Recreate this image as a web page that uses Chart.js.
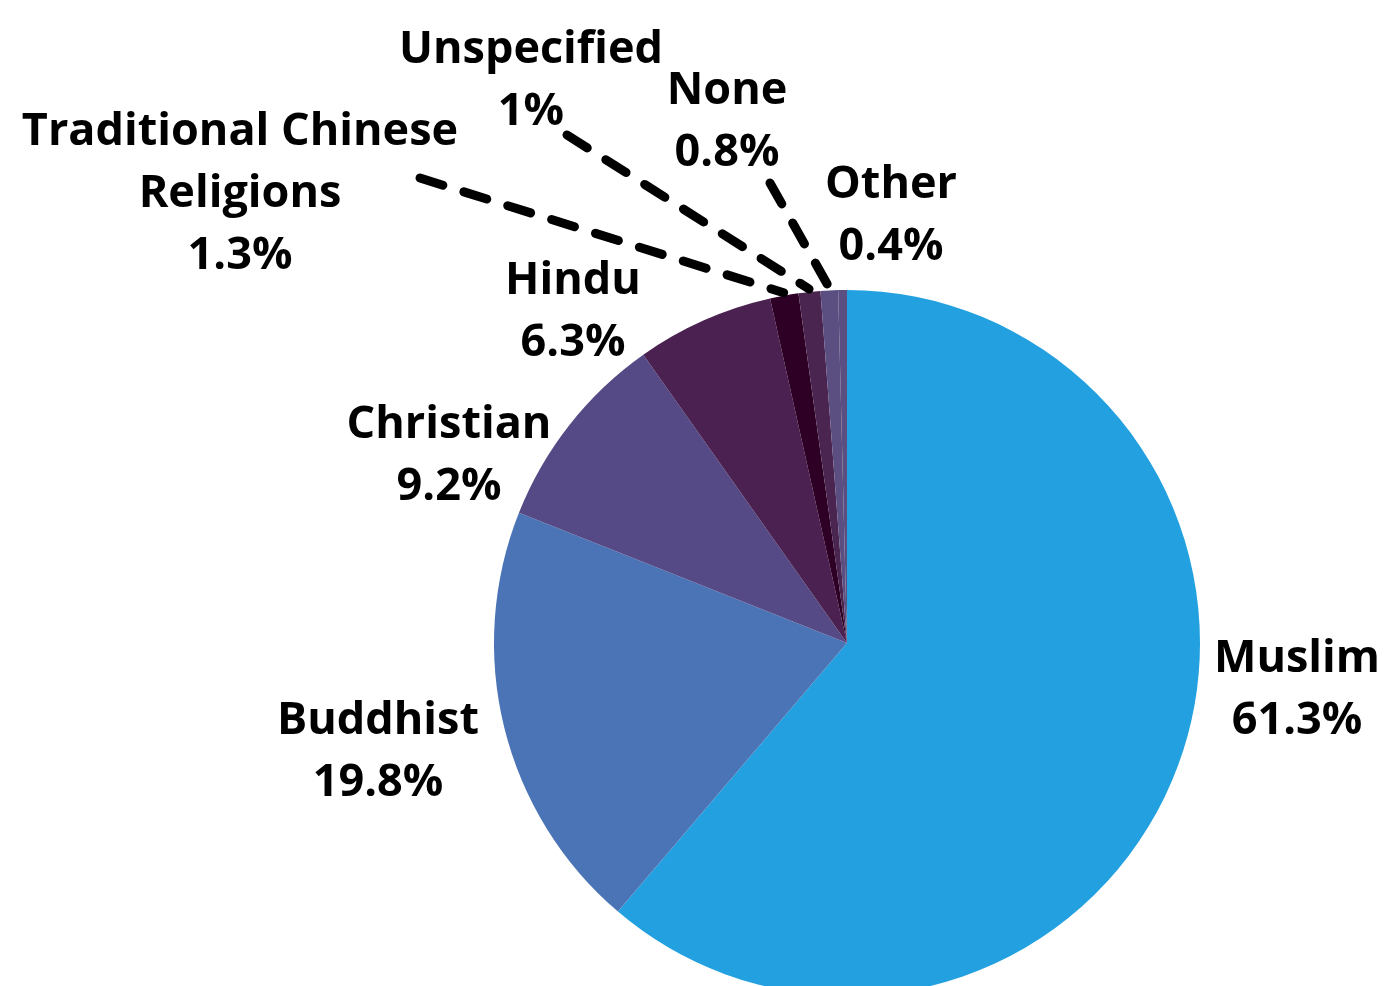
<!DOCTYPE html>
<html lang="en">
<head>
  <meta charset="UTF-8">
  <title>Religions</title>
  <script src="https://cdn.jsdelivr.net/npm/chart.js"></script>
  <style>
    html, body { margin: 0; padding: 0; background: #fff; overflow: hidden; }
    .chart-box { width: 1390px; height: 1000px; }
  </style>
</head>
<body>
  <div class="chart-box"><canvas id="pieChart"></canvas></div>
  <script>
    const religions = ['Muslim', 'Buddhist', 'Christian', 'Hindu', 'Traditional Chinese Religions', 'Unspecified', 'None', 'Other'];
    const shares = [61.3, 19.8, 9.2, 6.3, 1.3, 1, 0.8, 0.4];
    const shareLabels = ['61.3%', '19.8%', '9.2%', '6.3%', '1.3%', '1%', '0.8%', '0.4%'];
    const sliceColors = ['#22a0df', '#4a74b6', '#554a85', '#4a2150', '#2e0026', '#4a2550', '#5b4f81', '#5b4f81'];

    // where each label block sits (center x, first baseline y) and text lines
    const labelLines = [
      ['Muslim'], ['Buddhist'], ['Christian'], ['Hindu'],
      ['Traditional Chinese', 'Religions'], ['Unspecified'], ['None'], ['Other']
    ];
    const labelAt = [
      [1297, 672], [378, 734], [449, 438], [573, 294],
      [240, 145], [531, 63], [727, 104], [891, 198]
    ];
    // dashed leader lines start here and run to the slice edge
    const leaderFrom = { 4: [420, 178], 5: [567, 135], 6: [770, 183] };

    const labelPlugin = {
      id: 'sliceLabels',
      afterDatasetsDraw(chart) {
        const ctx = chart.ctx;
        const arcs = chart.getDatasetMeta(0).data;
        ctx.save();
        ctx.strokeStyle = '#000';
        ctx.lineWidth = 9;
        ctx.lineCap = 'round';
        ctx.setLineDash([24, 22]);
        for (const k in leaderFrom) {
          const a = arcs[k];
          const p = a.getProps(['x', 'y', 'startAngle', 'endAngle', 'outerRadius'], true);
          const mid = (p.startAngle + p.endAngle) / 2;
          const ex = p.x + Math.cos(mid) * (p.outerRadius + 3);
          const ey = p.y + Math.sin(mid) * (p.outerRadius + 3);
          ctx.beginPath();
          ctx.moveTo(leaderFrom[k][0], leaderFrom[k][1]);
          ctx.lineTo(ex, ey);
          ctx.stroke();
        }
        ctx.setLineDash([]);
        ctx.fillStyle = '#000';
        ctx.font = 'bold 45px "Open Sans"';
        ctx.textAlign = 'center';
        ctx.textBaseline = 'alphabetic';
        religions.forEach((r, i) => {
          const lines = [...labelLines[i], shareLabels[i]];
          lines.forEach((t, j) => {
            ctx.fillText(t, labelAt[i][0], labelAt[i][1] + j * 62);
          });
        });
        ctx.restore();
      }
    };

    function drawChart() {
      new Chart(document.getElementById('pieChart'), {
        type: 'pie',
        data: {
          labels: religions,
          datasets: [{ data: shares, backgroundColor: sliceColors, borderWidth: 0 }]
        },
        options: {
          responsive: true,
          maintainAspectRatio: false,
          animation: false,
          layout: { padding: { left: 494, right: 190, top: 290, bottom: 4 } },
          plugins: { legend: { display: false }, tooltip: { enabled: false } }
        },
        plugins: [labelPlugin]
      });
    }

    if (document.fonts && document.fonts.load) {
      document.fonts.load('bold 45px "Open Sans"').then(drawChart, drawChart);
    } else {
      drawChart();
    }
  </script>
</body>
</html>
